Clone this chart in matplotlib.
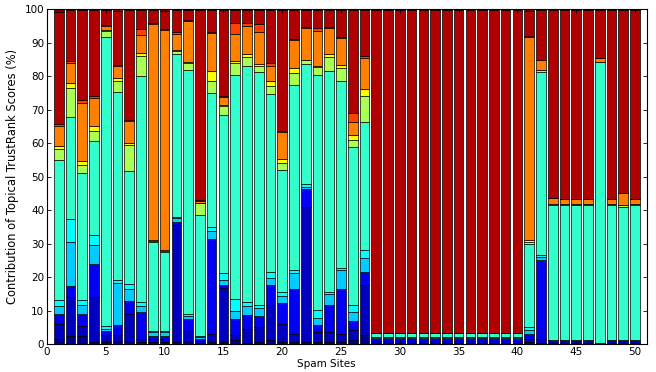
#coding:UTF-8

import numpy as np
import matplotlib
matplotlib.use('Agg')
import matplotlib.pyplot as plt

# one list per topic, 50 spam sites each (percent)
sites = list(range(1, 51))

navy = [1.5, 2.5, 2.5, 0.5, 0.5, 0.8, 1, 0.5, 0.5, 0.5, 0.5, 1, 0.3, 0.6, 0.5, 1.3, 0.3, 0.5, 1.3, 0.6,
        0.5, 0.5, 0.5, 0.6, 0.6, 1.3, 2.6] + [0.3] * 13 + [0.5, 0.3, 0.3, 0.3, 0.3, 0.3, 0, 0.3, 0.3, 0.3]
darkblue = [4.5, 11.5, 3, 13.7, 2.1, 2, 8, 1, 1, 1, 34.9, 3, 0.5, 2.4, 16.3, 1.3, 4.3, 4.5, 10.3, 5.5,
            2.6, 40.3, 3.1, 3, 2.5, 3, 14.9] + [0.7] * 13 + [1.1, 1.3, 0.8, 0.8, 0.8, 0.8, 0.3, 0.8, 1, 0.8]
blue = [3, 3.3, 3.5, 9.8, 1.4, 3, 4, 8, 1, 1, 1.1, 3.5, 0.6, 28.3, 0.7, 5, 4, 3.3, 5.9, 6.2,
        13.4, 5.4, 2, 8.2, 13.4, 2.6, 4] + [0.6] * 13 + [1.3, 23.4, 0, 0, 0, 0, 0, 0, 0, 0]
sky = [2.5, 13.3, 2.7, 5.5, 0.5, 12.4, 3.5, 2, 1, 1, 1, 1, 0.6, 2.4, 1.5, 2.4, 2.7, 2.6, 2.3, 2.1,
       4.7, 0.8, 2.2, 3.1, 5.5, 2.7, 4.1] + [0.2] * 13 + [1.4, 1, 0, 0, 0, 0, 0, 0, 0, 0]
cyan = [1.8, 6.7, 1.6, 3, 1, 0.8, 1.3, 1, 0.5, 0.5, 0.5, 0.5, 0.3, 1.3, 2.2, 3.6, 1.3, 0.7, 1.7, 1,
        1, 0.7, 2.5, 0.7, 0.7, 2, 2.6] + [0.2] * 13 + [0.8, 0.5, 0, 0, 0, 0, 0, 0, 0, 0]
aqua = [41.7, 30.4, 37.7, 28, 86, 56.2, 34, 67.5, 26.5, 23.5, 48.5, 72.8, 36.2, 40, 47.2, 66.8, 70.4, 69.6, 53.1, 36.7,
        55, 35.9, 69.9, 65.8, 55.7, 47.3, 38.1] + [1.2] * 13 + [24.7, 54.6, 40.5, 40.5, 40.5, 40.5, 84, 40.5, 39.5, 40.5]
lgreen = [3.2, 8.6, 2.5, 3, 2, 3.3, 7.7, 6, 0.3, 0.3, 1, 2.2, 3.5, 3.4, 2.8, 3.4, 2.8, 1.8, 2.4, 2,
          3.7, 1.2, 2.6, 4.2, 4, 2.1, 7.7] + [0.1] * 13 + [0.7, 0.8, 0.2, 0.2, 0.2, 0.2, 0, 0.2, 0.7, 0.2]
yellow = [1, 1.7, 1, 1.5, 0.3, 1, 0.5, 1, 0.2, 0.2, 0.3, 0.3, 0.2, 3.1, 0.2, 0.8, 0.8, 0.6, 1.4, 1,
          1.5, 0, 0.2, 1, 1, 1.4, 2] + [0] * 13 + [0.7, 0, 0, 0, 0, 0, 0, 0, 0, 0]
orange = [6, 6, 17.5, 8.5, 1.2, 3.5, 6.5, 5.2, 64.5, 65.7, 4.7, 12.2, 0.5, 11.3, 2.3, 7.9, 8.2, 9.4, 4.6, 8.2,
          8.3, 9.4, 10.3, 7.6, 7.8, 4, 9.5] + [0.1] * 13 + [60.4, 2.9, 1.7, 1.4, 1.4, 1.4, 1.2, 1.4, 3.7, 1.4]
redorange = [0.5, 0.5, 0.7, 0.4, 0.3, 0.3, 0.5, 1.8, 0.3, 0.3, 0.5, 0.3, 0.3, 0.3, 0.2, 3.3, 1, 2.6, 0.8, 0.3,
             0.3, 0.3, 1, 0.3, 0.3, 2.7, 0.5] + [0] * 13 + [0.3, 0, 0, 0, 0, 0, 0, 0, 0, 0]
darkred = [33.5, 15.1, 27, 25.8, 4.4, 16.2, 32.7, 5.7, 3.9, 5.5, 6.7, 2.9, 56.7, 6.6, 25.8, 3.9, 3.9, 4.1, 15.9, 36.1,
           8.7, 5.2, 5.4, 5.2, 8.2, 30.6, 13.7] + [96.3] * 13 + [7.4, 14.9, 56.2, 56.5, 56.5, 56.5, 14.2, 56.5, 54.5, 56.5]
maroon = [0.8, 0.4, 0.3, 0.3, 0.3, 0.5, 0.3, 0.3, 0.3, 0.5, 0.3, 0.3, 0.3, 0.3, 0.3, 0.3, 0.3, 0.3, 0.3, 0.3,
          0.3, 0.3, 0.3, 0.3, 0.3, 0.3, 0.3] + [0.3] * 13 + [0.7, 0.3, 0.3, 0.3, 0.3, 0.3, 0.3, 0.3, 0.3, 0.3]

topics = [navy, darkblue, blue, sky, cyan, aqua, lgreen, yellow, orange, redorange, darkred, maroon]
colors = ['#00008C', '#0000C0', '#0000F5', '#00CCFF', '#00FFFF', '#33FFCC',
          '#AAFF55', '#FFFF00', '#FF8000', '#FF4000', '#B00000', '#800000']


def drawStacked(ax):
    bottom = np.zeros(len(sites))
    for vals, c in zip(topics, colors):
        vals = np.array(vals, dtype=float)
        ax.bar(sites, vals, width=0.82, bottom=bottom, color=c,
               edgecolor='black', linewidth=0.5)
        bottom += vals


if __name__ == '__main__':
    plt.rcParams['font.family'] = ['DejaVu Sans']
    plt.rcParams['font.size'] = 7.5

    fig = plt.figure(figsize=(6.56, 3.72), dpi=100)
    ax = fig.add_axes([0.0716, 0.075, 0.9144, 0.9008])
    drawStacked(ax)

    ax.set_xlim(0, 51)
    ax.set_ylim(0, 100)
    ax.set_xticks(range(0, 51, 5))
    ax.set_yticks(range(0, 101, 10))
    ax.tick_params(direction='in', length=3, width=0.6, top=True, right=True, pad=2)
    for s in ax.spines.values():
        s.set_linewidth(0.8)
    ax.set_xlabel('Spam Sites', labelpad=0)
    ax.xaxis.set_label_coords(0.465, -0.045)
    ax.set_ylabel('Contribution of Topical TrustRank Scores (%)', labelpad=4, fontsize=8.3)

    fig.savefig('out.png', dpi=100)
    plt.close()
